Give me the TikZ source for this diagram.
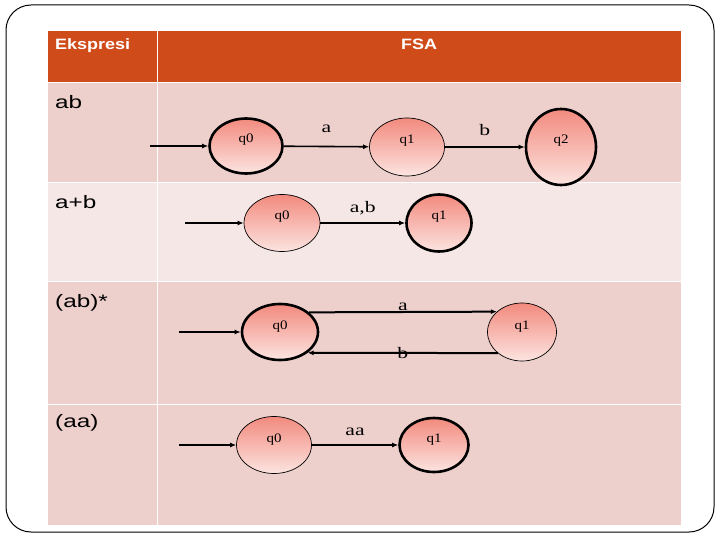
\documentclass[tikz,border=0pt]{standalone}
\usepackage{fontspec}
\setmainfont{Liberation Serif}
\newfontfamily\arialfont[FakeStretch=1.35]{Liberation Sans}
\newfontfamily\headfont[FakeStretch=1.2]{Liberation Sans}
\newfontfamily\lblfont[FakeStretch=1.35]{Liberation Serif}
\newfontfamily\qfont[FakeStretch=1.15]{Liberation Serif}
\usepackage{tikz}
\usetikzlibrary{arrows.meta,positioning,shapes.geometric}
\definecolor{headcolor}{RGB}{208,75,26}
\definecolor{rowdark}{RGB}{237,207,204}
\definecolor{rowlight}{RGB}{245,231,230}
\definecolor{statetop}{RGB}{242,138,126}
\definecolor{statebot}{RGB}{252,228,224}

\begin{document}
\begin{tikzpicture}[x=1pt, y=-1pt,
  state/.style={ellipse, draw, line width=0.7pt, top color=statetop, bottom color=statebot,
    minimum width=76pt, minimum height=58pt, inner sep=0pt,
    font=\qfont\fontsize{13}{13}\selectfont, text height=9pt, text depth=15pt},
  final/.style={state, line width=2.6pt},
  trans/.style={line width=1.6pt, -{Latex[length=6pt,width=5pt]}},
  lbl/.style={font=\lblfont\fontsize{16}{16}\selectfont, inner sep=0pt},
  headtext/.style={anchor=base, text=white, font=\headfont\bfseries\fontsize{15}{15}\selectfont, inner sep=0pt},
  rowtext/.style={anchor=base west, font=\arialfont\fontsize{18}{18}\selectfont, inner sep=0pt}]
  \useasboundingbox (0,0) rectangle (720,540);

  % Slide frame
  \draw[line width=1pt, rounded corners=25pt] (6,5) rectangle (714,532);

  % Table cells
  \fill[headcolor] (48,31) rectangle (681,83);
  \fill[rowdark]  (48,83)  rectangle (681,183);
  \fill[rowlight] (48,183) rectangle (681,281);
  \fill[rowdark]  (48,281) rectangle (681,525);
  \foreach \y in {83,183,281,404}
    \draw[white, line width=1pt] (48,\y) -- (681,\y);
  \draw[white, line width=1pt] (157,31) -- (157,525);

  % Header and row labels
  \node[headtext, anchor=base west] (hexp) at (55,50) {Ekspresi};
  \node[headtext] (hfsa) at (419,50) {FSA};
  \node[rowtext] (rab) at (55,109) {ab};
  \node[rowtext] (rapb) at (55,208) {a+b};
  \node[rowtext] (rstar) at (55,307) {(ab)*};
  \node[rowtext] (raa) at (55,427) {(aa)};

  % ab
  \coordinate (abin) at (150,146);
  \node[final, minimum width=73pt, minimum height=55pt] (abq0) at (246,146) {q0};
  \node[state, minimum width=75pt] (abq1) at (407,147) {q1};
  \node[final, minimum width=70pt, minimum height=76pt] (abq2) at (561,147) {q2};
  \draw[trans] (abin) -- (abq0);
  \draw[trans] (abq0) -- node[lbl, above=13pt] {a} (abq1);
  \draw[trans] (abq1) -- node[lbl, above=11pt] {b} (abq2);

  % a+b
  \coordinate (apbin) at (185,223);
  \node[state, minimum height=57pt] (apbq0) at (282,223) {q0};
  \node[final, minimum width=65pt, minimum height=57pt] (apbq1) at (439,223) {q1};
  \draw[trans] (apbin) -- (apbq0);
  \draw[trans] (apbq0) -- node[lbl, above=7pt] {a,b} (apbq1);

  % (ab)*
  \coordinate (sin) at (179,332);
  \node[final, minimum width=76pt, minimum height=56pt] (sq0) at (280,332) {q0};
  \node[state, minimum width=69pt, minimum height=58pt] (sq1) at (522,332) {q1};
  \draw[trans] (sin) -- (sq0);
  \draw[trans, line width=2pt] (sq0.34) -- node[lbl, above=0pt] {a} (sq1.141);
  \draw[trans, line width=2pt] (sq1.221) -- node[lbl] {b} (sq0.-37);

  % (aa)
  \coordinate (aain) at (179,445);
  \node[state, minimum width=75pt, minimum height=57pt] (aaq0) at (274,445) {q0};
  \node[final, minimum width=69pt, minimum height=54pt] (aaq1) at (434,445) {q1};
  \draw[trans] (aain) -- (aaq0);
  \draw[trans] (aaq0) -- node[lbl, above=9pt] {aa} (aaq1);

\end{tikzpicture}
\end{document}
